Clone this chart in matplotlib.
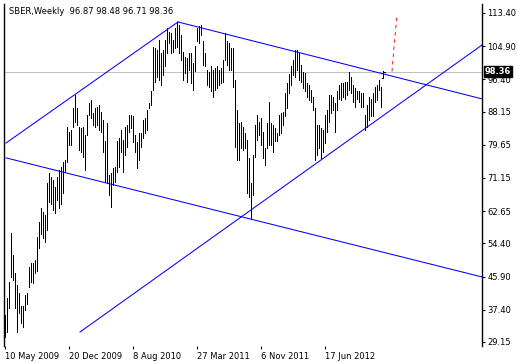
import matplotlib
matplotlib.use('Agg')
import matplotlib.pyplot as plt

# weekly bars SBER (high / low), one value per week from 10 May 2009
highs = [36.0, 40.3, 44.6, 57.0, 51.4, 46.7, 43.7, 41.6, 38.3, 38.3,
         41.2, 41.6, 48.4, 49.5, 49.3, 50.1, 56.1, 59.9, 63.4, 62.5,
         61.7, 69.8, 72.3, 71.5, 70.6, 68.9, 71.5, 73.2, 74.0, 75.3,
         75.7, 84.3, 83.0, 83.4, 89.0, 92.4, 89.0, 84.3, 83.9, 84.3,
         82.2, 87.3, 90.3, 91.1, 87.7, 89.0, 89.4, 89.8, 88.1, 86.0,
         80.5, 85.1, 71.9, 72.3, 73.6, 74.0, 80.5, 81.3, 83.4, 80.9,
         84.3, 84.7, 87.3, 87.3, 86.9, 82.2, 80.4, 82.6, 82.6, 86.0,
         86.4, 88.6, 90.3, 93.3, 104.8, 104.4, 103.9, 106.5, 103.1, 103.9,
         106.5, 109.5, 108.6, 108.2, 106.5, 109.5, 111.2, 110.3, 107.8, 103.5,
         102.2, 101.8, 103.1, 103.1, 100.5, 105.0, 109.5, 110.1, 110.3, 106.1,
         103.1, 98.8, 98.4, 99.7, 98.8, 99.2, 99.7, 98.8, 99.2, 101.4,
         108.2, 106.1, 105.6, 104.4, 104.4, 96.2, 88.6, 85.1, 85.6, 84.3,
         82.6, 80.9, 76.2, 69.8, 77.0, 84.7, 87.3, 85.6, 86.4, 83.0,
         78.7, 85.1, 90.7, 85.1, 84.7, 83.9, 82.6, 87.3, 87.7, 88.1,
         92.8, 95.4, 97.9, 99.7, 101.4, 103.9, 103.9, 103.1, 100.1, 98.4,
         98.0, 95.4, 95.0, 93.7, 92.0, 89.0, 84.7, 84.7, 84.0, 83.5,
         87.3, 88.6, 92.4, 92.4, 92.0, 90.3, 93.3, 95.0, 95.4, 95.4,
         95.8, 95.8, 98.4, 97.1, 95.0, 94.1, 93.3, 93.3, 92.8, 92.8,
         87.3, 89.8, 92.0, 91.5, 92.8, 94.5, 95.0, 96.2, 94.5, 98.48]
lows = [30.5, 31.8, 37.8, 45.9, 45.0, 37.8, 31.8, 36.5, 34.1, 33.1,
        37.3, 39.0, 43.3, 44.6, 44.3, 46.9, 47.2, 53.1, 56.9, 55.7,
        54.8, 57.8, 65.1, 64.6, 62.9, 62.1, 65.5, 63.4, 64.6, 67.2,
        72.8, 75.3, 79.6, 79.6, 84.3, 85.6, 84.7, 78.3, 77.9, 76.6,
        73.2, 82.2, 87.3, 86.4, 84.7, 84.3, 84.7, 83.4, 83.0, 77.9,
        70.2, 69.8, 66.8, 63.8, 69.3, 70.2, 72.8, 74.0, 77.9, 72.8,
        77.0, 79.2, 83.0, 83.9, 80.4, 77.9, 73.6, 75.8, 79.2, 81.3,
        82.6, 83.4, 89.0, 89.8, 93.7, 95.8, 97.1, 96.2, 95.0, 97.5,
        99.7, 103.1, 105.6, 103.1, 103.5, 104.4, 104.8, 103.1, 101.4, 96.2,
        98.0, 95.8, 98.8, 95.4, 93.7, 98.5, 106.1, 105.6, 107.8, 100.1,
        99.7, 95.0, 94.5, 93.3, 92.0, 93.7, 94.1, 95.0, 95.4, 95.8,
        101.4, 100.1, 98.8, 98.8, 94.5, 79.2, 75.8, 75.8, 78.7, 78.3,
        78.7, 67.2, 66.4, 60.8, 66.8, 76.6, 80.9, 82.2, 79.6, 76.2,
        74.5, 78.7, 79.6, 79.6, 77.9, 80.5, 80.5, 82.2, 82.6, 84.7,
        86.9, 89.0, 92.8, 95.0, 97.5, 97.1, 98.8, 96.2, 95.8, 94.1,
        93.3, 92.0, 91.1, 90.7, 88.6, 75.8, 77.0, 78.7, 76.2, 77.9,
        80.0, 83.0, 85.6, 87.7, 88.6, 83.0, 88.6, 91.5, 91.1, 92.0,
        91.5, 92.4, 93.7, 92.8, 90.7, 89.4, 91.5, 90.7, 89.4, 89.4,
        83.4, 84.3, 86.0, 86.9, 86.9, 90.7, 91.1, 93.7, 89.4, 96.71]
last_open, last_close = 96.87, 98.36

# x tick labels (every 32 bars)
date_pos = [0, 32, 64, 96, 128, 160]
date_labels = ['10 May 2009', '20 Dec 2009', '8 Aug 2010', '27 Mar 2011', '6 Nov 2011', '17 Jun 2012']
price_ticks = [113.40, 104.90, 96.40, 88.15, 79.65, 71.15, 62.65, 54.40, 45.90, 37.40, 29.15]

# trend channel lines (bar index, price)
chan_up1 = ([0.5, 86.5], [80.1, 111.1])
chan_down1 = ([86.5, 238.5], [111.1, 91.4])
chan_down2 = ([0.5, 238.5], [76.3, 45.8])
chan_up2 = ([37.5, 238.5], [31.7, 105.2])
proj = ([193.5, 194.5, 196.0], [98.4, 104.7, 112.9])

W, H = 518, 363
LW = 0.72  # one pixel
fig = plt.figure(figsize=(W / 100, H / 100), dpi=100)
ax = fig.add_axes([4 / W, (H - 346) / H, 478 / W, 342 / H])

ax.axhline(last_close, color='#c0c0c0', lw=LW, antialiased=False, zorder=1)

xs = list(range(len(highs)))
ax.vlines(xs, lows, highs, color='black', lw=LW, antialiased=False, zorder=3)
n = len(highs) - 1
ax.plot([n - 0.6, n], [last_open, last_open], color='black', lw=LW, antialiased=False, zorder=3)
ax.plot([n, n + 0.9], [last_close, last_close], color='black', lw=LW, antialiased=False, zorder=3)

for lx, ly in [chan_up1, chan_down1, chan_down2, chan_up2]:
    ax.plot(lx, ly, color='#0000ff', lw=0.75, zorder=4)
ax.plot(proj[0], proj[1], color='red', lw=0.65, ls=(0, (4, 4)), zorder=4)

ax.set_xlim(-0.5, 238.5)
ax.set_ylim(28.12, 115.7)

ax.yaxis.tick_right()
ax.set_yticks(price_ticks)
ax.set_yticklabels(['%.2f' % v for v in price_ticks])
ax.tick_params(axis='y', direction='out', length=2.5, width=0.8, pad=1.5, labelsize=6)
ax.set_xticks(date_pos)
ax.set_xticklabels(date_labels, ha='left')
ax.tick_params(axis='x', direction='out', length=2.5, width=0.8, pad=2, labelsize=6)

for s in ['top', 'bottom']:
    ax.spines[s].set_visible(False)
for s in ['left', 'right']:
    ax.spines[s].set_linewidth(1.0)

ax.annotate('%.2f' % last_close, xy=(1, last_close), xycoords=('axes fraction', 'data'),
            xytext=(2, 0), textcoords='offset points', va='center', ha='left',
            fontsize=6, color='white', fontweight='bold',
            bbox=dict(boxstyle='square,pad=0.15', fc='black', ec='black'))

ax.text(0.011, 0.99, 'SBER,Weekly  96.87 98.48 96.71 98.36', transform=ax.transAxes,
        fontsize=6, va='top', ha='left')

fig.savefig('out.png', dpi=100)
